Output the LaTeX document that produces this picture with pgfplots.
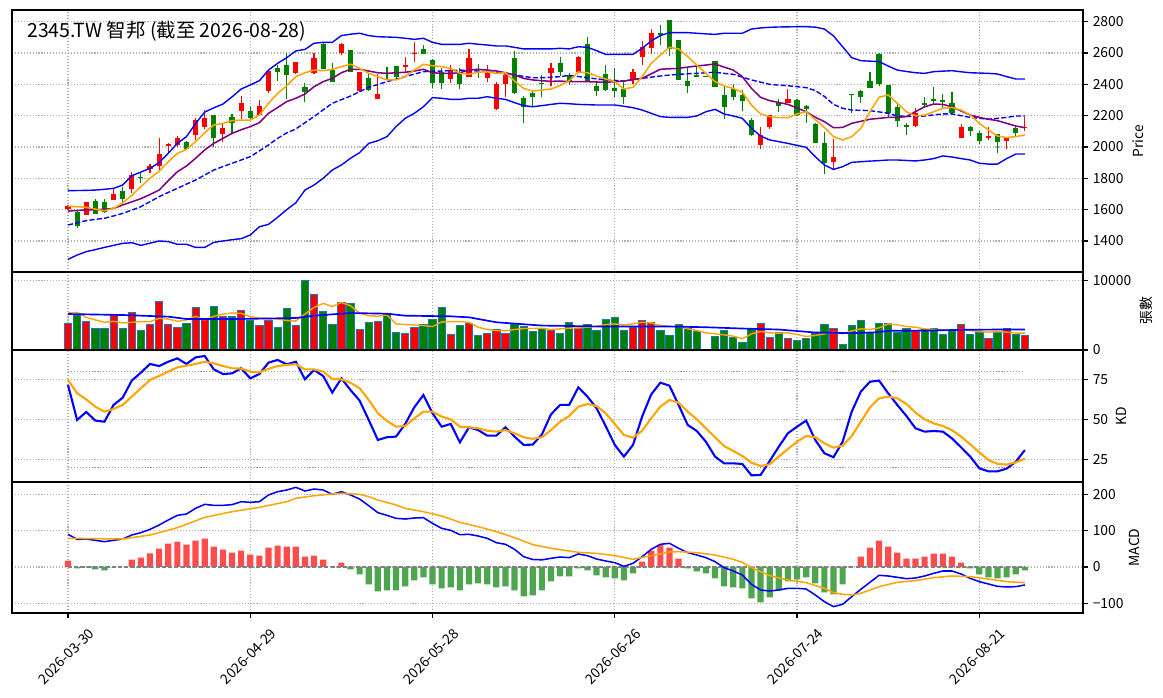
\documentclass[border=0pt]{standalone}
\usepackage{fontspec}
\setmainfont{Noto Sans CJK TC}
\usepackage{pgfplots}
\pgfplotsset{compat=1.18}
\usepackage{pgfplotstable}
\definecolor{cred}{RGB}{255,0,0}
\definecolor{cgreen}{RGB}{0,128,0}
\definecolor{hred}{RGB}{255,77,77}
\definecolor{hgreen}{RGB}{77,166,77}
\definecolor{mpblue}{RGB}{31,119,180}
\definecolor{gridc}{RGB}{176,176,176}
\definecolor{cpurple}{RGB}{128,0,128}
\definecolor{corange}{RGB}{255,165,0}
\definecolor{cblue}{RGB}{0,0,255}

\pgfplotstableread{
i O H L C
0 1606 1630 1600 1623
2 1568 1650 1564 1647
5 1664 1736 1662 1698
7 1732 1838 1708 1819
9 1862 1893 1836 1881
10 1881 2057 1853 1955
11 2008 2028 1970 2019
12 2013 2070 2002 2057
14 2079 2187 2045 2172
15 2130 2236 2113 2185
17 2085 2151 2032 2121
19 2232 2323 2179 2279
21 2202 2300 2198 2260
22 2357 2491 2345 2485
25 2470 2545 2465 2540
27 2470 2598 2464 2566
30 2602 2662 2587 2657
32 2355 2479 2351 2479
34 2308 2464 2304 2338
37 2513 2577 2481 2523
38 2591 2672 2545 2600
42 2436 2523 2411 2491
44 2449 2626 2447 2566
46 2438 2523 2413 2474
47 2242 2413 2238 2402
48 2402 2464 2321 2457
53 2474 2534 2389 2502
56 2479 2583 2470 2574
62 2425 2500 2402 2479
63 2577 2674 2523 2640
64 2634 2755 2591 2726
76 2015 2130 1985 2076
77 2130 2202 2117 2202
79 2283 2368 2279 2308
84 1906 2051 1853 1936
93 2136 2251 2130 2215
98 2055 2145 2055 2130
101 2055 2125 2045 2070
103 2038 2066 1985 2060
105 2119 2194 2104 2128
}\upT

\pgfplotstableread{
i O H L C
1 1585 1591 1481 1496
3 1653 1670 1572 1574
4 1647 1670 1579 1583
6 1717 1742 1651 1670
8 1810 1836 1768 1804
13 2030 2036 1981 1985
16 2202 2206 2002 2060
18 2191 2208 2085 2155
20 2230 2257 2181 2187
23 2502 2521 2419 2477
24 2523 2598 2304 2462
26 2381 2406 2285 2353
28 2660 2672 2498 2498
29 2489 2538 2413 2413
31 2617 2617 2477 2481
33 2440 2468 2355 2366
35 2475 2508 2436 2469
36 2517 2517 2432 2449
39 2626 2651 2596 2596
40 2555 2562 2374 2411
41 2481 2502 2370 2411
43 2479 2502 2370 2404
45 2500 2530 2438 2491
49 2566 2611 2338 2342
50 2313 2325 2151 2253
51 2342 2364 2257 2317
52 2410 2457 2317 2404
54 2534 2577 2455 2477
55 2457 2470 2396 2417
57 2657 2700 2415 2415
58 2389 2417 2325 2355
59 2466 2521 2355 2362
60 2377 2502 2317 2360
61 2372 2413 2272 2321
65 2726 2777 2653 2713
66 2810 2810 2581 2623
67 2683 2683 2430 2430
68 2421 2502 2347 2391
69 2462 2519 2445 2449
70 2453 2455 2447 2448
71 2547 2551 2381 2385
72 2332 2389 2179 2257
73 2372 2396 2300 2321
74 2332 2364 2232 2296
75 2172 2185 2070 2074
78 2279 2304 2221 2264
80 2300 2308 2198 2202
81 2262 2268 2151 2245
82 2147 2151 2023 2023
83 2028 2094 1825 1896
86 2336 2338 2215 2330
87 2357 2364 2279 2317
88 2421 2479 2374 2379
89 2594 2598 2387 2404
90 2394 2394 2187 2215
91 2253 2279 2130 2164
92 2140 2151 2074 2130
94 2279 2317 2247 2266
95 2304 2381 2274 2296
96 2300 2338 2247 2289
97 2279 2353 2209 2215
99 2125 2134 2070 2104
100 2087 2104 2017 2038
102 2081 2081 1959 2030
104 2121 2125 2066 2087
}\downT

\pgfplotsset{
  panel/.style={
    scale only axis, width=771.12pt,
    xmin=-6.145, xmax=111.38,
    axis line style={line width=0.8pt},
    xmajorgrids, ymajorgrids,
    major grid style={gridc, line width=0.8pt, dash pattern=on 0.8pt off 1.32pt},
    xtick={0,20,40,60,80,100},
    ytick pos=right, yticklabel pos=right,
    tick align=outside, major tick length=3.5pt,
    every tick/.style={black, line width=0.8pt},
    tick label style={font=\fontsize{10}{12}\selectfont},
    scaled y ticks=false,
    /pgf/number format/assume math mode=true,
    /pgf/number format/1000 sep={},
    ylabel style={font=\fontsize{10}{12}\selectfont, anchor=center},
    clip=true,
  },
  toppanel/.style={panel, xticklabels={}, xtick style={draw=none}},
  wick/.style={draw=none, mark=none, forget plot, error bars/.cd, y dir=plus, y explicit, error mark=none,
    error bar style={draw=#1, line width=0.8pt, solid}},
  body/.style={draw=none, mark=none, forget plot, error bars/.cd, y dir=plus, y explicit, error mark=none,
    error bar style={draw=#1, line width=3.7pt, solid}},
}

\begin{document}
\begin{tikzpicture}
\useasboundingbox (0,0) rectangle (837.36pt,502.56pt);
\fill[white] (0,0) rectangle (837.36pt,502.56pt);

% ---------------- Price panel ----------------
\begin{axis}[toppanel, at={(8.64pt,306.72pt)}, anchor=south west, height=188.64pt,
  ymin=1202.1, ymax=2874.5, ytick={1400,1600,1800,2000,2200,2400,2600,2800},
  ylabel={Price}, ylabel style={at={(axis description cs:1.0514,0.5)}}]
% wicks
\addplot[wick=cred] table[x=i, y=L, y error expr=\thisrow{H}-\thisrow{L}] {\upT};
\addplot[wick=cgreen] table[x=i, y=L, y error expr=\thisrow{H}-\thisrow{L}] {\downT};
% bodies
\addplot[body=cred] table[x=i, y=O, y error expr=\thisrow{C}-\thisrow{O}] {\upT};
\addplot[body=cgreen] table[x=i, y=C, y error expr=\thisrow{O}-\thisrow{C}] {\downT};
% Bollinger upper
\addplot[cblue, line width=1pt, mark=none] coordinates {(0,1721)(1,1722)(2,1723)(3,1725)(4,1730)(5,1736)(6,1757)(7,1817)(8,1840)(9,1864)(10,1900)(11,1960)(12,2023)(13,2066)(14,2150)(15,2223)(16,2250)(17,2274)(18,2320)(19,2370)(20,2396)(21,2423)(22,2491)(23,2534)(24,2570)(25,2613)(26,2623)(27,2662)(28,2668)(29,2668)(30,2711)(31,2720)(32,2726)(33,2711)(34,2704)(35,2702)(36,2700)(37,2694)(38,2687)(39,2694)(40,2668)(41,2655)(42,2655)(43,2655)(44,2662)(45,2656)(46,2651)(47,2645)(48,2645)(49,2636)(50,2626)(51,2626)(52,2626)(53,2626)(54,2630)(55,2626)(56,2640)(57,2636)(58,2615)(59,2591)(60,2591)(61,2591)(62,2591)(63,2630)(64,2677)(65,2711)(66,2730)(67,2730)(68,2730)(69,2726)(70,2722)(71,2719)(72,2726)(73,2726)(74,2726)(75,2753)(76,2760)(77,2764)(78,2766)(79,2767)(80,2768)(81,2768)(82,2765)(83,2753)(84,2709)(85,2640)(86,2570)(87,2551)(88,2548)(89,2545)(90,2517)(91,2491)(92,2482)(93,2474)(94,2470)(95,2481)(96,2484)(97,2487)(98,2480)(99,2474)(100,2472)(101,2470)(102,2466)(103,2449)(104,2434)(105,2434)};
% Bollinger lower
\addplot[cblue, line width=1pt, mark=none] coordinates {(0,1283)(1,1310)(2,1332)(3,1345)(4,1359)(5,1372)(6,1385)(7,1389)(8,1372)(9,1386)(10,1400)(11,1396)(12,1379)(13,1379)(14,1359)(15,1359)(16,1391)(17,1400)(18,1408)(19,1415)(20,1438)(21,1491)(22,1506)(23,1551)(24,1600)(25,1644)(26,1725)(27,1757)(28,1800)(29,1853)(30,1885)(31,1928)(32,1964)(33,2023)(34,2040)(35,2066)(36,2130)(37,2183)(38,2215)(39,2257)(40,2315)(41,2311)(42,2304)(43,2304)(44,2311)(45,2311)(46,2321)(47,2311)(48,2304)(49,2283)(50,2264)(51,2257)(52,2264)(53,2272)(54,2279)(55,2276)(56,2272)(57,2270)(58,2268)(59,2268)(60,2268)(61,2260)(62,2251)(63,2236)(64,2215)(65,2194)(66,2189)(67,2189)(68,2189)(69,2198)(70,2225)(71,2240)(72,2211)(73,2198)(74,2183)(75,2119)(76,2070)(77,2045)(78,2034)(79,2023)(80,2010)(81,1998)(82,1938)(83,1885)(84,1857)(85,1874)(86,1902)(87,1906)(88,1910)(89,1913)(90,1917)(91,1917)(92,1914)(93,1911)(94,1917)(95,1926)(96,1943)(97,1936)(98,1926)(99,1917)(100,1896)(101,1891)(102,1891)(103,1926)(104,1955)(105,1955)};
% Bollinger middle (MA20)
\addplot[cblue, line width=1pt, mark=none, dash pattern=on 3.7pt off 1.6pt] coordinates {(0,1502)(1,1516)(2,1530)(3,1538)(4,1545)(5,1560)(6,1576)(7,1597)(8,1619)(9,1651)(10,1683)(11,1710)(12,1736)(13,1763)(14,1789)(15,1821)(16,1853)(17,1875)(18,1896)(19,1917)(20,1938)(21,1975)(22,2013)(23,2055)(24,2090)(25,2115)(26,2155)(27,2194)(28,2237)(29,2279)(30,2302)(31,2325)(32,2353)(33,2381)(34,2399)(35,2417)(36,2433)(37,2449)(38,2465)(39,2481)(40,2483)(41,2485)(42,2488)(43,2491)(44,2488)(45,2485)(46,2480)(47,2474)(48,2467)(49,2460)(50,2451)(51,2442)(52,2442)(53,2445)(54,2449)(55,2457)(56,2450)(57,2442)(58,2435)(59,2428)(60,2425)(61,2421)(62,2430)(63,2438)(64,2446)(65,2453)(66,2459)(67,2464)(68,2467)(69,2470)(70,2474)(71,2477)(72,2470)(73,2464)(74,2446)(75,2428)(76,2414)(77,2400)(78,2395)(79,2391)(80,2385)(81,2379)(82,2360)(83,2323)(84,2272)(85,2247)(86,2236)(87,2234)(88,2232)(89,2224)(90,2215)(91,2198)(92,2196)(93,2194)(94,2198)(95,2205)(96,2211)(97,2211)(98,2200)(99,2189)(100,2183)(101,2177)(102,2183)(103,2189)(104,2198)(105,2198)};
% MA10
\addplot[cpurple, line width=1.1pt, mark=none] coordinates {(0,1591)(1,1595)(2,1598)(3,1600)(4,1602)(5,1608)(6,1630)(7,1650)(8,1670)(9,1697)(10,1725)(11,1785)(12,1842)(13,1879)(14,1928)(15,1981)(16,2023)(17,2055)(18,2087)(19,2110)(20,2130)(21,2155)(22,2215)(23,2252)(24,2290)(25,2311)(26,2338)(27,2385)(28,2417)(29,2438)(30,2474)(31,2496)(32,2496)(33,2485)(34,2474)(35,2470)(36,2474)(37,2477)(38,2485)(39,2496)(40,2474)(41,2470)(42,2470)(43,2474)(44,2491)(45,2496)(46,2491)(47,2485)(48,2474)(49,2460)(50,2438)(51,2428)(52,2423)(53,2419)(54,2421)(55,2417)(56,2417)(57,2417)(58,2415)(59,2413)(60,2417)(61,2421)(62,2430)(63,2438)(64,2467)(65,2496)(66,2499)(67,2502)(68,2510)(69,2517)(70,2523)(71,2530)(72,2510)(73,2491)(74,2449)(75,2374)(76,2317)(77,2296)(78,2284)(79,2272)(80,2249)(81,2225)(82,2190)(83,2162)(84,2123)(85,2125)(86,2151)(87,2164)(88,2177)(89,2183)(90,2189)(91,2189)(92,2194)(93,2226)(94,2257)(95,2274)(96,2272)(97,2257)(98,2230)(99,2204)(100,2189)(101,2177)(102,2168)(103,2151)(104,2134)(105,2123)};
% MA5
\addplot[corange, line width=1.1pt, mark=none] coordinates {(0,1623)(1,1619)(2,1615)(3,1603)(4,1593)(5,1608)(6,1644)(7,1691)(8,1747)(9,1800)(10,1845)(11,1906)(12,1959)(13,1985)(14,2034)(15,2091)(16,2140)(17,2151)(18,2168)(19,2172)(20,2172)(21,2204)(22,2279)(23,2342)(24,2390)(25,2449)(26,2474)(27,2491)(28,2487)(29,2496)(30,2513)(31,2528)(32,2502)(33,2470)(34,2449)(35,2428)(36,2428)(37,2449)(38,2491)(39,2528)(40,2519)(41,2513)(42,2502)(43,2470)(44,2464)(45,2477)(46,2481)(47,2470)(48,2474)(49,2421)(50,2374)(51,2357)(52,2364)(53,2370)(54,2392)(55,2423)(56,2479)(57,2474)(58,2453)(59,2434)(60,2417)(61,2370)(62,2381)(63,2449)(64,2534)(65,2587)(66,2636)(67,2626)(68,2577)(69,2523)(70,2470)(71,2417)(72,2389)(73,2374)(74,2349)(75,2268)(76,2211)(77,2194)(78,2187)(79,2187)(80,2211)(81,2225)(82,2175)(83,2125)(84,2066)(85,2045)(86,2066)(87,2119)(88,2225)(89,2317)(90,2332)(91,2279)(92,2225)(93,2198)(94,2204)(95,2225)(96,2247)(97,2253)(98,2236)(99,2204)(100,2151)(101,2108)(102,2070)(103,2060)(104,2066)(105,2077)};
\node[anchor=base west, inner sep=0pt, font=\fontsize{14}{16}\selectfont] at (axis description cs:0.014,0.896) {2345.TW 智邦 (截至 2026-08-28)};
\end{axis}

% ---------------- Volume panel ----------------
\begin{axis}[toppanel, at={(8.64pt,250.56pt)}, anchor=south west, height=56.16pt,
  ymin=0, ymax=11250, ytick={0,10000}, yticklabels={0,10000},
  ylabel={張數}, ylabel style={at={(axis description cs:1.0588,0.5)}}]
\addplot[ybar, bar width=0.8, bar shift=0pt, fill=cred, draw=mpblue, line width=0.6pt] coordinates {(0,3808)(2,4094)(5,5093)(7,5379)(9,3665)(10,6950)(11,3665)(12,3237)(14,6093)(15,4474)(17,4808)(19,5664)(21,3522)(22,4236)(25,3522)(27,7950)(30,6807)(32,2951)(34,4094)(37,2380)(38,3237)(42,2237)(44,3808)(46,2380)(47,2951)(48,2380)(53,2808)(56,3094)(62,3237)(63,4236)(64,3951)(76,3808)(77,1809)(79,1666)(84,3094)(93,2808)(98,3665)(101,1666)(103,3094)(105,2094)};
\addplot[ybar, bar width=0.8, bar shift=0pt, fill=cgreen, draw=mpblue, line width=0.6pt] coordinates {(1,4950)(3,3046)(4,3046)(6,3046)(8,2808)(13,3808)(16,6236)(18,4808)(20,4236)(23,3237)(24,5950)(26,10090)(28,5522)(29,3665)(31,6664)(33,3951)(35,5236)(36,2523)(39,3665)(40,4379)(41,6093)(43,3522)(45,2094)(49,3665)(50,3380)(51,2666)(52,3046)(54,2380)(55,3951)(57,3665)(58,2808)(59,4379)(60,4665)(61,2808)(65,2808)(66,2094)(67,3665)(68,3094)(69,2666)(71,1952)(72,2808)(73,1809)(74,1095)(75,3094)(78,2523)(80,1380)(81,1666)(82,2380)(83,3665)(85,809)(86,3522)(87,4236)(88,2523)(89,3808)(90,3808)(91,2523)(92,3094)(94,2951)(95,3094)(96,2237)(97,2951)(99,2237)(100,2523)(102,2523)(104,2237)};
\addplot[corange, line width=1pt, mark=none] coordinates {(0,5331)(1,5426)(2,4712)(3,4332)(4,3998)(5,4141)(6,3903)(7,3998)(8,4094)(9,4094)(10,4570)(11,4474)(12,4141)(13,4332)(14,4855)(15,4332)(16,4855)(17,5188)(18,5331)(19,5284)(20,4808)(21,4617)(22,4522)(23,4474)(24,4236)(25,4189)(26,5188)(27,6140)(28,6712)(29,6283)(30,6854)(31,6378)(32,5331)(33,4950)(34,4855)(35,5046)(36,3760)(37,3665)(38,3618)(39,3522)(40,3380)(41,4046)(42,4094)(43,4094)(44,3998)(45,3284)(46,2951)(47,2808)(48,2761)(49,2951)(50,3094)(51,3100)(52,3142)(53,2951)(54,3046)(55,3142)(56,3189)(57,3284)(58,3380)(59,3665)(60,3760)(61,3618)(62,3760)(63,3998)(64,3903)(65,3522)(66,3427)(67,3380)(68,3046)(69,2808)(70,2475)(71,2332)(72,2190)(73,1999)(74,1618)(75,2332)(76,2666)(77,2475)(78,2428)(79,2475)(80,2237)(81,1952)(82,2094)(83,2332)(84,2570)(85,2332)(86,2761)(87,3046)(88,2951)(89,3189)(90,3760)(91,3618)(92,3380)(93,3284)(94,3046)(95,2951)(96,2951)(97,2808)(98,2951)(99,2808)(100,2666)(101,2570)(102,2666)(103,2570)(104,2428)(105,2428)};
\addplot[cblue, line width=1.2pt, mark=none] coordinates {(0,5188)(6,5046)(11,4808)(13,4474)(19,4474)(25,4617)(27,4950)(31,5331)(33,5284)(35,5236)(37,4950)(42,4855)(44,4712)(47,3998)(52,3522)(59,3380)(66,3380)(70,3284)(74,3094)(78,2951)(82,2523)(86,2428)(89,2570)(90,2761)(94,2808)(98,2904)(102,2951)(105,2951)};
\end{axis}

% ---------------- KD panel ----------------
\begin{axis}[toppanel, at={(8.64pt,155.52pt)}, anchor=south west, height=95.04pt,
  ymin=10.83, ymax=93.33, ytick={25,50,75},
  ylabel={KD}, ylabel style={at={(axis description cs:1.0355,0.5)}}]
\addplot[gridc!85!black, line width=0.8pt, dash pattern=on 0.8pt off 1.32pt, mark=none] coordinates {(0,80)(105,80)};
\addplot[gridc!85!black, line width=0.8pt, dash pattern=on 0.8pt off 1.32pt, mark=none] coordinates {(0,20)(105,20)};
\addplot[cblue, line width=1.5pt, mark=none] coordinates {(0,71.5)(1,49.6)(2,54.6)(3,49.2)(4,48.5)(5,59.0)(6,63.5)(7,74.2)(8,79.2)(9,84.6)(10,83.3)(11,86.0)(12,88.1)(13,84.6)(14,88.7)(15,89.6)(16,81.2)(17,78.3)(18,78.7)(19,81.9)(20,75.6)(21,78.3)(22,85.4)(23,87.1)(24,84.4)(25,86.0)(26,75.0)(27,80.8)(28,77.1)(29,66.7)(30,75.6)(31,68.3)(32,61.7)(33,49.6)(34,37.1)(35,38.8)(36,39.2)(37,47.1)(38,57.5)(39,65.2)(40,53.8)(41,45.4)(42,47.1)(43,35.6)(44,45.0)(45,43.3)(46,39.8)(47,39.8)(48,45.0)(49,39.2)(50,34.0)(51,34.2)(52,40.5)(53,53.1)(54,59.0)(55,59.0)(56,70.0)(57,64.2)(58,56.9)(59,45.8)(60,34.0)(61,26.7)(62,34.0)(63,51.7)(64,65.6)(65,72.9)(66,71.0)(67,59.0)(68,46.5)(69,42.7)(70,36.0)(71,26.7)(72,22.5)(73,22.5)(74,22.1)(75,15.0)(76,15.2)(77,24.0)(78,32.9)(79,41.3)(80,45.4)(81,49.2)(82,37.1)(83,28.8)(84,26.3)(85,36.0)(86,54.8)(87,67.3)(88,73.5)(89,74.2)(90,66.3)(91,59.0)(92,52.1)(93,44.4)(94,42.3)(95,42.7)(96,42.3)(97,38.1)(98,32.5)(99,26.7)(100,19.4)(101,17.5)(102,17.5)(103,19.2)(104,23.5)(105,30.8)};
\addplot[corange, line width=1.5pt, mark=none] coordinates {(0,74.6)(1,66.3)(2,62.5)(3,57.9)(4,54.8)(5,56.5)(6,59.0)(7,64.2)(8,69.4)(9,74.6)(10,77.1)(11,79.8)(12,82.5)(13,83.5)(14,84.6)(15,86.0)(16,85.0)(17,83.3)(18,81.9)(19,81.7)(20,79.8)(21,79.4)(22,81.5)(23,83.3)(24,84.0)(25,84.4)(26,81.2)(27,81.2)(28,79.8)(29,75.2)(30,75.0)(31,72.9)(32,69.4)(33,62.1)(34,53.8)(35,49.0)(36,45.4)(37,45.8)(38,50.6)(39,54.8)(40,54.8)(41,51.7)(42,50.0)(43,45.4)(44,45.0)(45,44.4)(46,42.9)(47,42.3)(48,43.3)(49,41.3)(50,38.8)(51,37.8)(52,38.8)(53,43.3)(54,48.5)(55,52.1)(56,57.9)(57,59.6)(58,58.3)(59,53.8)(60,47.1)(61,40.2)(62,38.5)(63,42.9)(64,50.6)(65,57.9)(66,62.1)(67,60.4)(68,54.8)(69,50.0)(70,44.4)(71,38.8)(72,33.3)(73,30.2)(74,27.1)(75,22.9)(76,20.8)(77,21.9)(78,26.7)(79,31.5)(80,36.0)(81,39.6)(82,38.8)(83,35.0)(84,32.3)(85,33.5)(86,39.6)(87,48.5)(88,57.5)(89,63.1)(90,64.2)(91,63.1)(92,59.6)(93,54.2)(94,50.0)(95,47.5)(96,45.8)(97,43.3)(98,39.2)(99,34.4)(100,29.4)(101,24.6)(102,22.1)(103,21.7)(104,23.1)(105,25.4)};
\end{axis}

% ---------------- MACD panel ----------------
\begin{axis}[panel, at={(8.64pt,61.2pt)}, anchor=south west, height=94.32pt,
  ymin=-126.6, ymax=233.9, ytick={-100,0,100,200}, yticklabels={−100,0,100,200},
  xtick pos=bottom,
  xticklabels={2026-03-30,2026-04-29,2026-05-28,2026-06-26,2026-07-24,2026-08-21},
  xticklabel style={anchor=center, yshift=-27.8pt, xshift=-1.2pt, rotate=45},
  ylabel={MACD}, ylabel style={at={(axis description cs:1.0481,0.5)}}]
\addplot[ybar, bar width=0.68, bar shift=0pt, fill=hred, draw=none] coordinates {(0,17.4)(7,20.2)(8,25.7)(9,37.6)(10,50.4)(11,64.2)(12,69.7)(13,61.4)(14,72.4)(15,77.9)(16,55.9)(17,47.7)(18,39.4)(19,44.9)(20,33.9)(21,31.2)(22,53.2)(23,58.7)(24,55.9)(25,55.9)(26,28.4)(27,31.2)(28,20.2)(29,0.6)(30,11.9)(63,14.7)(64,44.9)(65,60.5)(66,53.2)(67,22.9)(86,0.6)(87,28.4)(88,53.2)(89,72.4)(90,55.9)(91,39.4)(92,22.9)(93,22.9)(94,28.4)(95,36.7)(96,36.7)(97,28.4)(98,11.9)};
\addplot[ybar, bar width=0.68, bar shift=0pt, fill=hgreen, draw=none] coordinates {(1,-3.7)(2,-1.0)(3,-6.4)(4,-9.2)(5,-1.0)(6,-0.6)(31,-6.4)(32,-20.2)(33,-47.7)(34,-66.9)(35,-64.2)(36,-64.2)(37,-53.2)(38,-36.7)(39,-28.4)(40,-47.7)(41,-58.7)(42,-55.9)(43,-64.2)(44,-47.7)(45,-44.9)(46,-47.7)(47,-55.9)(48,-53.2)(49,-64.2)(50,-80.7)(51,-77.9)(52,-64.2)(53,-39.4)(54,-25.7)(55,-25.7)(56,-3.7)(57,-9.2)(58,-22.9)(59,-28.4)(60,-31.2)(61,-36.7)(62,-17.4)(68,-3.7)(69,-11.9)(70,-17.4)(71,-31.2)(72,-53.2)(73,-55.9)(74,-58.7)(75,-86.2)(76,-97.2)(77,-83.4)(78,-64.2)(79,-39.4)(80,-33.9)(81,-28.4)(82,-44.9)(83,-69.7)(84,-75.2)(85,-47.7)(99,-3.7)(100,-20.2)(101,-28.4)(102,-31.2)(103,-28.4)(104,-20.2)(105,-9.2)};
\addplot[gray, line width=0.8pt, dash pattern=on 3pt off 1.5pt, mark=none] coordinates {(0,0)(105,0)};
\addplot[cblue, line width=1.1pt, mark=none] coordinates {(0,89.9)(1,76.1)(2,77.0)(3,73.4)(4,69.7)(5,73.4)(6,77.0)(7,88.0)(8,94.5)(9,103.6)(10,115.5)(11,129.3)(12,142.1)(13,145.8)(14,161.4)(15,172.4)(16,169.6)(17,169.6)(18,171.5)(19,179.7)(20,177.9)(21,179.7)(22,198.1)(23,207.2)(24,211.8)(25,219.2)(26,209.1)(27,214.6)(28,211.8)(29,199.9)(30,207.2)(31,198.1)(32,187.1)(33,168.7)(34,149.5)(35,142.1)(36,133.9)(37,132.0)(38,134.8)(39,135.7)(40,120.1)(41,106.4)(42,100.9)(43,88.9)(44,89.9)(45,85.3)(46,78.9)(47,66.9)(48,62.4)(49,48.6)(50,28.4)(51,20.6)(52,19.7)(53,23.8)(54,27.5)(55,25.7)(56,35.8)(57,31.2)(58,22.0)(59,16.5)(60,11.9)(61,1.8)(62,10.1)(63,28.4)(64,48.6)(65,62.4)(66,65.1)(67,51.4)(68,39.4)(69,33.0)(70,25.7)(71,14.7)(72,-1.8)(73,-11.0)(74,-22.0)(75,-47.7)(76,-63.3)(77,-66.0)(78,-63.3)(79,-58.7)(80,-58.7)(81,-60.5)(82,-77.0)(83,-95.4)(84,-109.1)(85,-102.7)(86,-81.6)(87,-61.4)(88,-42.2)(89,-22.9)(90,-24.8)(91,-28.4)(92,-32.1)(93,-30.3)(94,-24.8)(95,-17.4)(96,-11.0)(97,-11.0)(98,-19.3)(99,-31.2)(100,-40.3)(101,-46.8)(102,-53.2)(103,-55.0)(104,-54.1)(105,-49.5)};
\addplot[corange, line width=1.1pt, mark=none] coordinates {(0,78.9)(3,78.0)(6,77.0)(9,88.0)(12,108.2)(15,136.6)(18,152.2)(21,164.1)(24,179.7)(25,188.9)(27,196.2)(29,200.8)(30,202.7)(32,199.9)(33,193.5)(34,184.3)(36,170.6)(37,161.4)(39,152.2)(41,140.3)(43,122.9)(45,111.0)(47,97.2)(49,80.7)(51,61.5)(53,51.4)(56,40.3)(58,37.6)(60,31.2)(62,21.1)(64,31.2)(66,41.3)(67,42.2)(69,39.4)(71,33.0)(73,21.1)(74,12.8)(75,-1.8)(77,-23.8)(79,-35.8)(81,-43.1)(83,-58.7)(84,-70.6)(85,-75.2)(86,-77.0)(87,-72.4)(89,-54.1)(91,-42.2)(93,-37.6)(95,-29.3)(97,-24.8)(99,-26.6)(101,-33.0)(103,-40.3)(105,-43.1)};
\end{axis}
\end{tikzpicture}
\end{document}
